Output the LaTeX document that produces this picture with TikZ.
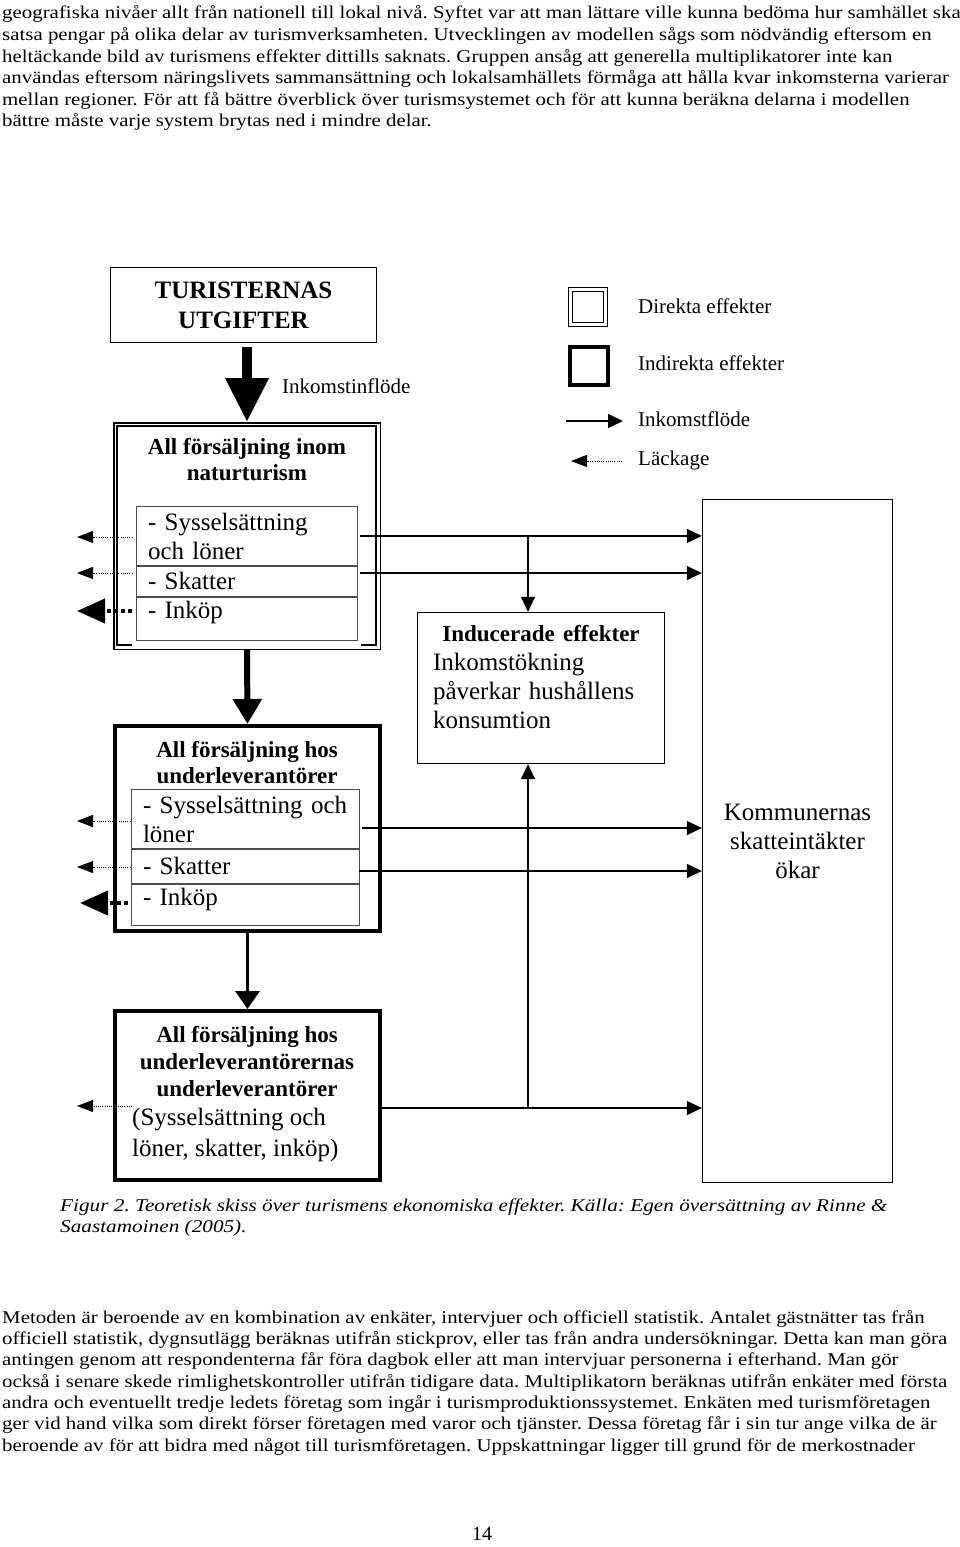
\documentclass[tikz,border=0pt]{standalone}
\usepackage{fontspec}
\setmainfont{Liberation Serif}
\usepackage{graphicx}
\usetikzlibrary{arrows.meta}
\newcommand{\fsz}[2]{\fontsize{#1}{#2}\selectfont}
\newcommand{\bx}{1.16}
\frenchspacing

\begin{document}
\begin{tikzpicture}[x=1pt, y=-1pt, every node/.style={inner sep=0pt},
	txt/.style={font=\fsz{18}{21.5}, anchor=base west},
	box/.style={draw, line width=1.3pt},
	heavy/.style={draw, line width=4pt},
	row/.style={draw=black!70, line width=0.9pt, anchor=north, align=left, inner xsep=12pt, font=\fsz{25}{29}},
	ttl/.style={font=\bfseries\fsz{23}{26}, align=center},
	lbl/.style={font=\fsz{21}{25}, anchor=base west},
	flow/.style={line width=1.3pt, -{Triangle[length=15pt,width=14pt]}},
	leak/.style={line width=0.9pt, dash pattern=on 1pt off 1.2pt, -{Triangle[length=16pt,width=12pt]}},
	bigleak/.style={line width=4pt, dash pattern=on 4pt off 3pt, -{Triangle[length=28pt,width=24pt]}}]
	\fill[white] (0,0) rectangle (960,1547);
	\useasboundingbox (0,0) rectangle (960,1547);
	% text above the figure
	\foreach \ltxt [count=\i] in {{geografiska nivåer allt från nationell till lokal nivå. Syftet var att man lättare ville kunna bedöma hur samhället ska}, {satsa pengar på olika delar av turismverksamheten. Utvecklingen av modellen sågs som nödvändig eftersom en}, {heltäckande bild av turismens effekter dittills saknats. Gruppen ansåg att generella multiplikatorer inte kan}, {användas eftersom näringslivets sammansättning och lokalsamhällets förmåga att hålla kvar inkomsterna varierar}, {mellan regioner. För att få bättre överblick över turismsystemet och för att kunna beräkna delarna i modellen}, {bättre måste varje system brytas ned i mindre delar.}} {\node[txt] (pa\i) at (2,{19+21.5*(\i-1)}) {\scalebox{\bx}[1]{\ltxt}};}
	% direct effects
	\node[box, minimum width=266pt, minimum height=75pt, align=center, font=\bfseries\fsz{25}{30}] (utg) at (243.5,305) {TURISTERNAS\\UTGIFTER};
	\node[lbl] (inlbl) at (282,393.7) {Inkomstinflöde};
	\node[box, line width=1.5pt, minimum width=266.5pt, minimum height=226.5pt] (nat) at (247,536) {};
	\draw[line width=1.2pt] (132,645) -- (117,645) -- (117,426) -- (376,426) -- (376,645) -- (361,645);
	\node[ttl] (natttl) at (247,459.6) {All försäljning inom\\naturturism};
	\node[row, minimum width=221pt, minimum height=59pt, text width=197pt] (r1) at (246.5,506) {- Sysselsättning\\och löner};
	\node[row, minimum width=221pt, minimum height=30pt, text width=197pt] (r2) at (r1.south) {- Skatter};
	\node[row, minimum width=221pt, minimum height=43pt, text width=197pt, text depth=17pt] (r3) at (r2.south) {- Inköp};
	% indirect effects
	\node[heavy, minimum width=265pt, minimum height=205pt] (sub) at (247.5,828.5) {};
	\node[ttl] (subttl) at (247,762.4) {All försäljning hos\\underleverantörer};
	\node[row, minimum width=228pt, minimum height=59pt, text width=204pt] (s1) at (245,789) {\mbox{- Sysselsättning och}\\löner};
	\node[row, minimum width=228pt, minimum height=34pt, text width=204pt] (s2) at (s1.south) {- Skatter};
	\node[row, minimum width=228pt, minimum height=41pt, text width=204pt, text depth=15pt] (s3) at (s2.south) {- Inköp};
	\node[heavy, minimum width=265pt, minimum height=169pt] (u3) at (247.5,1095.5) {};
	\node[ttl, font=\bfseries\fsz{23}{27}] (u3ttl) at (247,1061.4) {All försäljning hos\\underleverantörernas\\underleverantörer};
	\node[font=\fsz{25}{31}, align=left, anchor=north west] (u3txt) at (132,1107.8) {(Sysselsättning och\\löner, skatter, inköp)};
	% induced effects and municipal taxes
	\node[box, minimum width=247pt, minimum height=151pt, text width=216pt, align=left, font=\fsz{25}{29}] (ind) at (541,688) {\makebox[216pt]{\bfseries\fsz{23}{29}Inducerade effekter}\\Inkomstökning\\påverkar hushållens\\konsumtion\\[-6pt]\mbox{}};
	\node[box, minimum width=190pt, minimum height=683pt, align=center, font=\fsz{25}{29}] (kom) at (797.5,841) {Kommunernas\\skatteintäkter\\ökar};
	% legend
	\node[draw, double, line width=1.2pt, double distance=2.6pt, minimum size=35pt] (legdir) at (588,307) {};
	\node[lbl] (tdir) at (638,313.7) {Direkta effekter};
	\node[heavy, minimum size=38pt] (legind) at (589,365.5) {};
	\node[lbl] (tind) at (638,370.7) {Indirekta effekter};
	\coordinate (lf1) at (566,421); \coordinate (lf2) at (623,421);
	\draw[flow] (lf1) -- (lf2);
	\node[lbl] (tflow) at (638,426.7) {Inkomstflöde};
	\coordinate (ll1) at (622,461); \coordinate (ll2) at (571,461);
	\draw[leak] (ll1) -- (ll2);
	\node[lbl] (tleak) at (638,465.7) {Läckage};
	% income flows
	\draw[line width=10pt, -{Triangle[length=44pt,width=41pt]}, shorten <=4pt] (utg.south -| nat.north) -- (nat.north);
	\draw[line width=6pt, -{Triangle[length=25pt,width=28pt]}] (nat.south) -- (sub.north);
	\draw[line width=3.5pt, -{Triangle[length=18pt,width=24pt]}] (sub.south) -- (u3.north);
	\draw[flow, shorten <=3pt] (r1.east) -- (r1.east -| kom.west);
	\draw[flow, shorten <=3pt] (r2.east |- 0,573) -- (kom.west |- 0,573);
	\coordinate (indin) at ([xshift=-13pt]ind.north);
	\draw[flow] (indin |- r1.east) -- (indin);
	\draw[flow, shorten <=3pt] (s1.east |- 0,828) -- (kom.west |- 0,828);
	\draw[flow] (s2.east |- 0,871) -- (kom.west |- 0,871);
	\coordinate (indup) at ([xshift=-13pt]ind.south);
	\draw[flow] (u3.east |- 0,1108) -- (kom.west |- 0,1108);
	\draw[flow] (indup |- 0,1108) -- (indup);
	% leakage
	\coordinate (l1) at (77,537); \coordinate (l2) at (77,573); \coordinate (l3) at (77,611);
	\coordinate (l4) at (77,821); \coordinate (l5) at (77,867); \coordinate (l6) at (80,903); \coordinate (l7) at (77,1106);
	\draw[leak, shorten <=3pt] (r1.west |- l1) -- (l1);
	\draw[leak, shorten <=3pt] (r2.west |- l2) -- (l2);
	\draw[bigleak, shorten <=4pt] (r3.west |- l3) -- (l3);
	\draw[leak] (s1.west |- l4) -- (l4);
	\draw[leak] (s2.west |- l5) -- (l5);
	\draw[bigleak, shorten <=3pt] (s3.west |- l6) -- (l6);
	\draw[leak] (u3txt.west |- l7) -- (l7);
	% caption and text below
	\node[txt, font=\itshape\fsz{18}{21.5}] (cap1) at (60,1211) {\scalebox{1.18}[1]{Figur 2. Teoretisk skiss över turismens ekonomiska effekter. Källa: Egen översättning av Rinne \&}};
	\node[txt, font=\itshape\fsz{18}{21.5}] (cap2) at (60,1232.5) {\scalebox{1.18}[1]{Saastamoinen (2005).}};
	\foreach \ltxt [count=\i] in {{Metoden är beroende av en kombination av enkäter, intervjuer och officiell statistik. Antalet gästnätter tas från}, {officiell statistik, dygnsutlägg beräknas utifrån stickprov, eller tas från andra undersökningar. Detta kan man göra}, {antingen genom att respondenterna får föra dagbok eller att man intervjuar personerna i efterhand. Man gör}, {också i senare skede rimlighetskontroller utifrån tidigare data. Multiplikatorn beräknas utifrån enkäter med första}, {andra och eventuellt tredje ledets företag som ingår i turismproduktionssystemet. Enkäten med turismföretagen}, {ger vid hand vilka som direkt förser företagen med varor och tjänster. Dessa företag får i sin tur ange vilka de är}, {beroende av för att bidra med något till turismföretagen. Uppskattningar ligger till grund för de merkostnader}} {\node[txt] (pb\i) at (2,{1323+21.35*(\i-1)}) {\scalebox{\bx}[1]{\ltxt}};}
	\node[font=\fsz{20}{24}, anchor=base] (pnum) at (482,1540) {14};
\end{tikzpicture}
\end{document}
